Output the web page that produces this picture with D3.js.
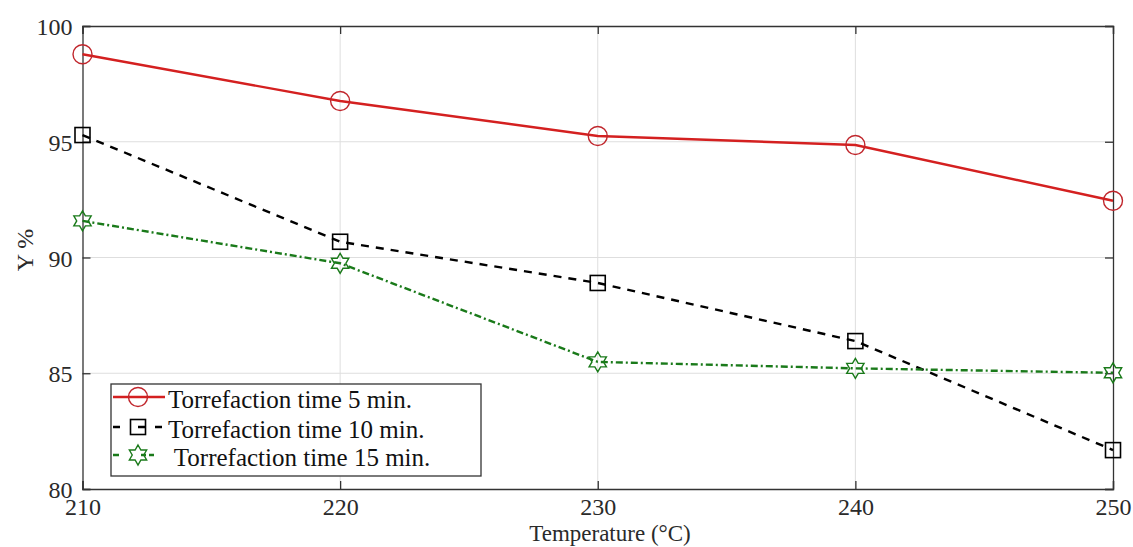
<!DOCTYPE html>
<html><head><meta charset="utf-8">
<script src="https://cdn.jsdelivr.net/npm/d3@7"></script>
<style>body{margin:0;background:#fff}svg{display:block}</style>
</head><body><svg id="c" width="1133" height="547" font-family="Liberation Serif"></svg>
<script>
const temps = [210, 220, 230, 240, 250];
const xTicks = [210, 220, 230, 240, 250];
const yTicks = [80, 85, 90, 95, 100];
const time5 = [98.78, 96.76, 95.25, 94.86, 92.45];
const time10 = [95.29, 90.68, 88.9, 86.39, 81.68];
const time15 = [91.58, 89.75, 85.49, 85.21, 85.02];
const seriesNames = ["Torrefaction time 5 min.", "Torrefaction time 10 min.", " Torrefaction time 15 min."];

const FONT = "Liberation Serif";
const svg = d3.select("#c");
const L = 82.5, R = 1113, T = 26, B = 489;
const x = d3.scaleLinear().domain([210, 250]).range([L, R]);
const y = d3.scaleLinear().domain([80, 100]).range([B, T]);

// grid
const g = svg.append("g");
g.selectAll(".gx").data(xTicks.slice(1, -1)).enter().append("line")
  .attr("x1", d => x(d)).attr("x2", d => x(d)).attr("y1", T).attr("y2", B)
  .attr("stroke", "#dedede").attr("stroke-width", 1);
g.selectAll(".gy").data(yTicks.slice(1, -1)).enter().append("line")
  .attr("y1", d => y(d)).attr("y2", d => y(d)).attr("x1", L).attr("x2", R)
  .attr("stroke", "#dedede").attr("stroke-width", 1);

// axes
const ax = svg.append("g").attr("transform", `translate(0,${B})`)
  .call(d3.axisBottom(x).tickValues(xTicks).tickSize(-8).tickPadding(13).tickFormat(d3.format("d")));
const axT = svg.append("g").attr("transform", `translate(0,${T})`)
  .call(d3.axisTop(x).tickValues(xTicks).tickSize(-8).tickFormat(""));
const ay = svg.append("g").attr("transform", `translate(${L},0)`)
  .call(d3.axisLeft(y).tickValues(yTicks).tickSize(-8).tickPadding(10).tickFormat(d3.format("d")));
const ayR = svg.append("g").attr("transform", `translate(${R},0)`)
  .call(d3.axisRight(y).tickValues(yTicks).tickSize(-8).tickFormat(""));
[ax, axT, ay, ayR].forEach(a => {
  a.attr("font-family", FONT).attr("font-size", 24);
  a.select(".domain").attr("stroke", "#333").attr("stroke-width", 1.3);
  a.selectAll(".tick line").attr("stroke", "#333").attr("stroke-width", 1.3);
  a.selectAll("text").attr("fill", "#2a2a2a");
});
ax.selectAll(".tick text").attr("dy", "0.55em");
ay.selectAll(".tick text").attr("dy", "0.36em");

svg.append("text").attr("x", 610).attr("y", 541).attr("text-anchor", "middle")
  .attr("font-family", FONT).attr("font-size", 23).attr("fill", "#2a2a2a").text("Temperature (°C)");
svg.append("text").attr("transform", "translate(33,250) rotate(-90)").attr("text-anchor", "middle")
  .attr("font-family", FONT).attr("font-size", 24).attr("fill", "#2a2a2a").text("Y %");

// markers
const hexPath = (r) => {
  const ri = r * 0.577; let p = "";
  for (let i = 0; i < 12; i++) {
    const a = -Math.PI / 2 + i * Math.PI / 6;
    const rr = i % 2 === 0 ? r : ri;
    p += (i ? "L" : "M") + (rr * Math.cos(a)).toFixed(2) + "," + (rr * Math.sin(a)).toFixed(2);
  }
  return p + "Z";
};
const series = [
  {vals: time5, color: "#d42020", mcolor: "#c0262c", dash: null, marker: "circle"},
  {vals: time10, color: "#000", mcolor: "#000", dash: "8,7", marker: "square"},
  {vals: time15, color: "#1a7a1a", mcolor: "#1a7a1a", dash: "7,3,2,3", marker: "hex"}
];
function drawMarker(sel, type, color) {
  if (type === "circle") sel.append("circle").attr("r", 9.5).attr("fill", "none").attr("stroke", color).attr("stroke-width", 1.4);
  else if (type === "square") sel.append("rect").attr("x", -7.5).attr("y", -7.5).attr("width", 15).attr("height", 15).attr("fill", "none").attr("stroke", color).attr("stroke-width", 1.6);
  else sel.append("path").attr("d", hexPath(10)).attr("fill", "none").attr("stroke", color).attr("stroke-width", 1.4);
}
const line = d3.line().x((d, i) => x(temps[i])).y(d => y(d));
series.forEach(s => {
  svg.append("path").datum(s.vals).attr("d", line).attr("fill", "none")
    .attr("stroke", s.color).attr("stroke-width", 2.4).attr("stroke-dasharray", s.dash);
  s.vals.forEach((v, i) => {
    const m = svg.append("g").attr("transform", `translate(${x(temps[i])},${y(v)})`);
    drawMarker(m, s.marker, s.mcolor);
  });
});

// legend
const lg = svg.append("g");
lg.append("rect").attr("x", 111).attr("y", 384).attr("width", 370).attr("height", 92)
  .attr("fill", "#fff").attr("stroke", "#333").attr("stroke-width", 1.3);
const rowsY = [397, 427, 455];
const legendDash = [null, "7,18,7,10,7,30", "6,22,5,3,5,30"];
series.forEach((s, i) => {
  const yy = rowsY[i];
  lg.append("line").attr("x1", 113).attr("x2", 165).attr("y1", yy).attr("y2", yy)
    .attr("stroke", s.color).attr("stroke-width", 2.4).attr("stroke-dasharray", legendDash[i]);
  const m = lg.append("g").attr("transform", `translate(138,${yy})`);
  drawMarker(m, s.marker, s.mcolor);
  lg.append("text").attr("x", 168).attr("y", yy).attr("dy", "0.42em")
    .attr("font-family", FONT).attr("font-size", 25)
    .attr("fill", "#111").attr("xml:space", "preserve").style("white-space", "pre").text(seriesNames[i]);
});
</script></body></html>
